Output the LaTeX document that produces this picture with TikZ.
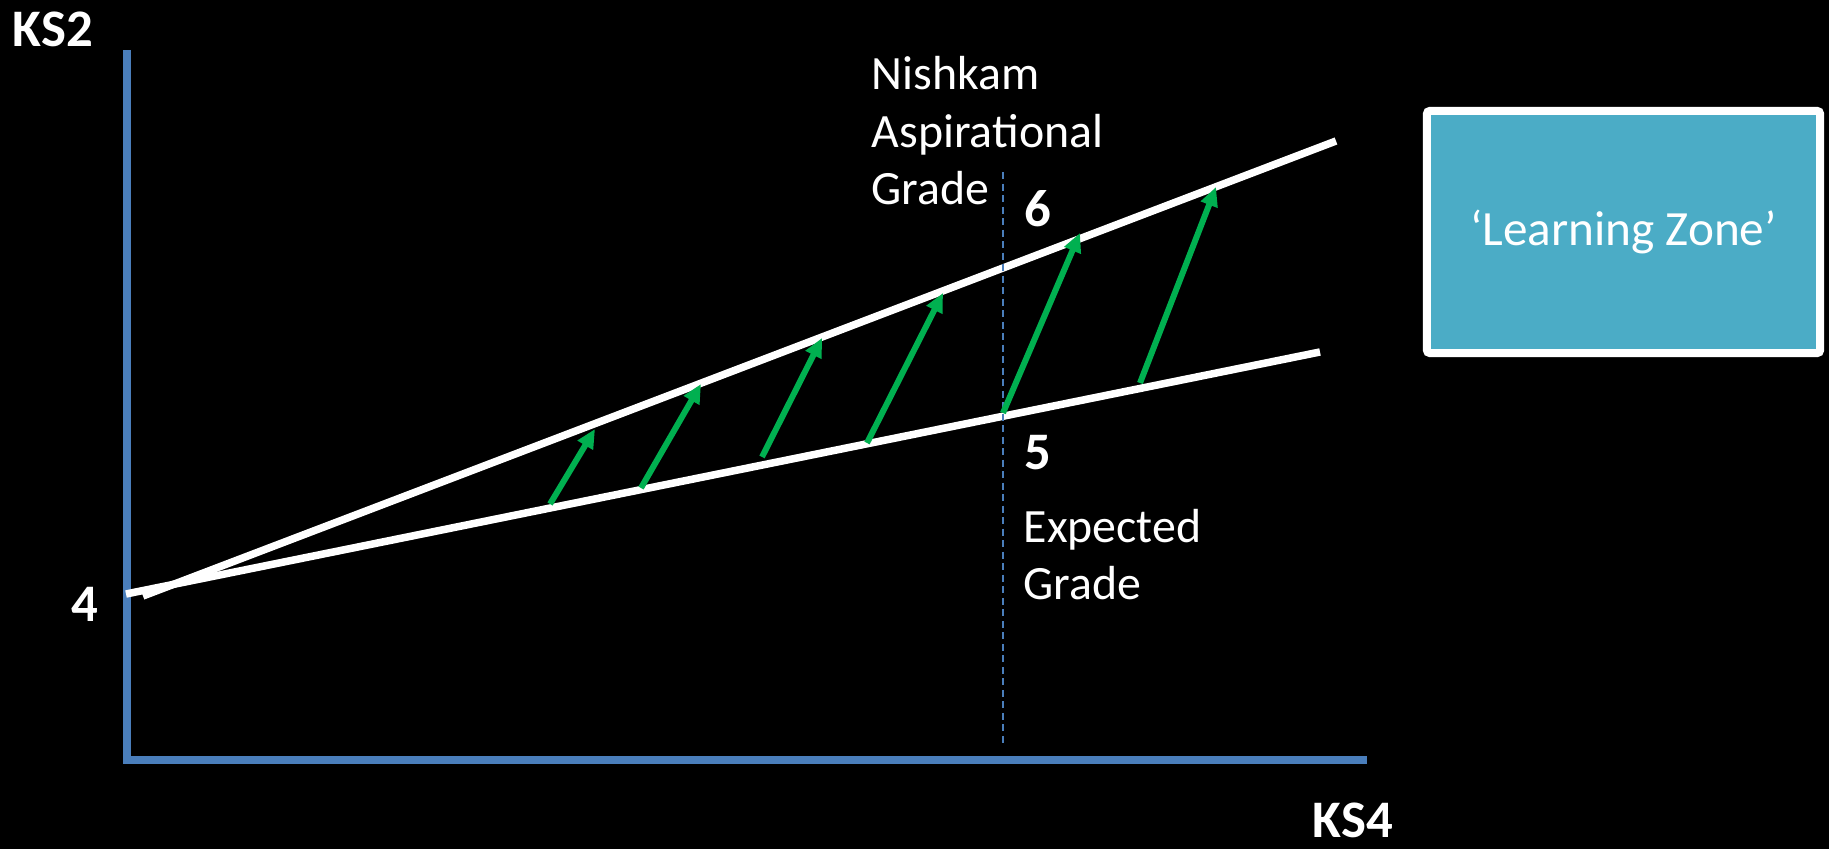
\documentclass[tikz,border=0pt]{standalone}
\usepackage{fontspec}
\setmainfont{Carlito}
\usetikzlibrary{arrows.meta}
\definecolor{axisblue}{HTML}{4A7EBB}
\definecolor{lzteal}{HTML}{4BACC6}
\definecolor{arrgreen}{HTML}{00B050}
\begin{document}
\begin{tikzpicture}[x=0.01cm,y=-0.01cm,
  axis/.style={draw=axisblue,line width=0.08cm},
  gradeline/.style={draw=white,line width=0.075cm},
  growth/.style={draw=arrgreen,line width=0.06cm,-{Triangle[length=0.19cm,width=0.17cm]}},
  guide/.style={draw=axisblue,line width=0.018cm,dash pattern=on 0.07cm off 0.045cm},
  lbl/.style={text=white,font=\fontsize{13.6}{16.2}\selectfont,inner sep=0pt},
  bignum/.style={text=white,font=\bfseries\fontsize{15}{18}\selectfont,inner sep=0pt},
  axlbl/.style={text=white,font=\bfseries\fontsize{15}{18}\selectfont,inner sep=0pt}]
\fill[black] (0,0) rectangle (1829,849);
\useasboundingbox (0,0) rectangle (1829,849);
% axes
\coordinate (ytop) at (127,50);
\coordinate (origin) at (127,760);
\coordinate (xend) at (1367,760);
\draw[axis] (ytop) -- (127,764);
\draw[axis] (123,760) -- (xend);
% grade lines
\coordinate (lowA) at (126,594);
\coordinate (lowB) at (1320,352);
\coordinate (upA) at (143,596);
\coordinate (upB) at (1336,141);
\draw[gradeline] (lowA) -- (lowB);
\draw[gradeline] (upA) -- (upB);
% dashed guide
\coordinate (gtop) at (1003,172);
\coordinate (gbot) at (1003,747);
\draw[guide] (gtop) -- (gbot);
% arrows
\coordinate (a1s) at (550,504); \coordinate (a1e) at (595,429);
\coordinate (a2s) at (641,488); \coordinate (a2e) at (701,384);
\coordinate (a3s) at (762,457); \coordinate (a3e) at (822,338);
\coordinate (a4s) at (867,443); \coordinate (a4e) at (943,293);
\coordinate (a5s) at (1003,413); \coordinate (a5e) at (1080,233);
\coordinate (a6s) at (1140,383); \coordinate (a6e) at (1216,187);
\foreach \i in {1,...,6} \draw[growth] (a\i s) -- (a\i e);
% labels
\node[axlbl,anchor=base west] (ks2) at (12,47) {KS2};
\node[axlbl,anchor=base west] (ks4) at (1312,838) {KS4};
\node[bignum,anchor=base west] (n4) at (71,622) {4};
\node[bignum,anchor=base west] (n5) at (1024,470) {5};
\node[bignum,anchor=base west] (n6) at (1024,227) {6};
\node[lbl,anchor=base west] (nish1) at (871,90) {Nishkam};
\node[lbl,anchor=base west] (nish2) at (871,148) {Aspirational};
\node[lbl,anchor=base west] (nish3) at (871,205) {Grade};
\node[lbl,anchor=base west] (exp1) at (1023,543) {Expected};
\node[lbl,anchor=base west] (exp2) at (1023,600) {Grade};
% box
\node[draw=white,line width=0.08cm,fill=lzteal,rounded corners=0.03cm,
  minimum width=3.93cm,minimum height=2.42cm,inner sep=0pt,
  text=white,font=\fontsize{14}{16}\selectfont] (lz) at (1623.5,232) {‘Learning Zone’};
\end{tikzpicture}
\end{document}
